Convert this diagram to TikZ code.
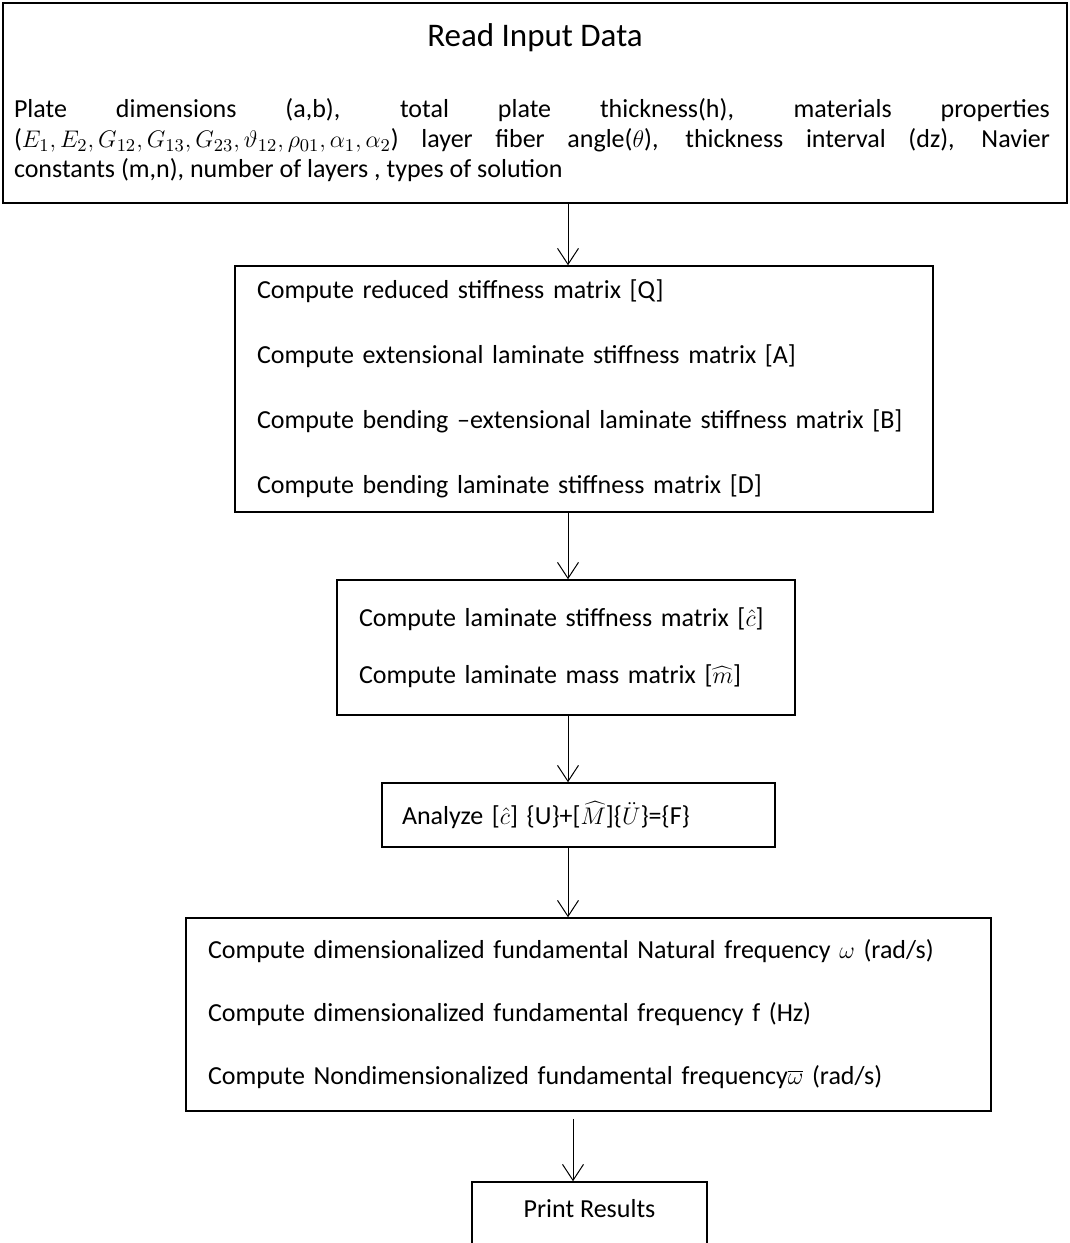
\documentclass[tikz,border=0pt]{standalone}
\usepackage[no-math]{fontspec}
\setmainfont{Carlito}
\usetikzlibrary{arrows.meta,positioning}

\begin{document}
\begin{tikzpicture}
  [x=0.5pt, y=-0.5pt,
   >={Straight Barb[length=8pt,width=10.5pt]},
   inbox/.style={rectangle,
                 draw=black,
                 line width=1pt},
   flowbox/.style={rectangle,
                   draw=black,
                   line width=0.75pt,
                   align=left,
                   inner xsep=11pt,
                   inner ysep=0pt},
   boxfont/.style={font=\fontsize{13}{#1}\selectfont}]
  \useasboundingbox (0,0) rectangle (1070,1243);
  % input data
  \node[inbox, minimum width=532pt, minimum height=100pt] (input) at (535,103) {};
  \node[font=\fontsize{16.5}{19}\selectfont] (inputtitle) at (535,38) {Read Input Data};
  \node[align=justify, text width=518pt, inner sep=0pt, boxfont=15] (inputtext) at (532,140)
    {Plate dimensions (a,b), total plate thickness(h), materials properties\linebreak
     ($E_1, E_2, G_{12}, G_{13}, G_{23}, \vartheta_{12}, \rho_{01}, \alpha_1, \alpha_2$) layer fiber angle($\theta$), thickness interval (dz), Navier\linebreak
     constants (m,n), number of layers , types of solution};
  % stiffness matrices
  \node[flowbox, boxfont=32.5, text width=327pt, minimum height=123pt] (stiff) at (584,389)
    {Compute reduced stiffness matrix [Q]\\
     Compute extensional laminate stiffness matrix [A]\\
     Compute bending –extensional laminate stiffness matrix [B]\\
     Compute bending laminate stiffness matrix [D]};
  \node[flowbox, boxfont=28.5, text width=207pt, minimum height=67.5pt] (lam) at (566,647.5)
    {Compute laminate stiffness matrix [$\hat{c}$]\\
     Compute laminate mass matrix [$\widehat{m}$]};
  \node[flowbox, boxfont=15, inner xsep=10pt, text width=176.5pt, minimum height=32pt] (analyze) at (578.5,815)
    {Analyze [$\hat{c}$] \{U\}+[$\widehat{M}$]\{$\ddot{U}$\}=\{F\}};
  \node[flowbox, boxfont=31.5, text width=380.5pt, minimum height=96.5pt] (freq) at (588.5,1014.5)
    {Compute dimensionalized fundamental Natural frequency $\omega$ (rad/s)\\
     Compute dimensionalized fundamental frequency f (Hz)\\
     Compute Nondimensionalized fundamental frequency$\overline{\omega}$ (rad/s)};
  \node[flowbox, boxfont=15, align=center, text depth=8pt, minimum width=117.5pt, minimum height=34pt] (print) at (589.5,1216)
    {Print Results};
  % arrows
  \coordinate (axis)  at (568,0);
  \coordinate (axisb) at (573,0);
  \path[->, line width=0.5pt]
  (input.south -| axis)   edge (stiff.north -| axis)
  (stiff.south -| axis)   edge (lam.north -| axis)
  (lam.south -| axis)     edge (analyze.north -| axis)
  (analyze.south -| axis) edge (freq.north -| axis)
  (freq.south -| axisb) ++(0,7) edge (print.north -| axisb);
\end{tikzpicture}
\end{document}
